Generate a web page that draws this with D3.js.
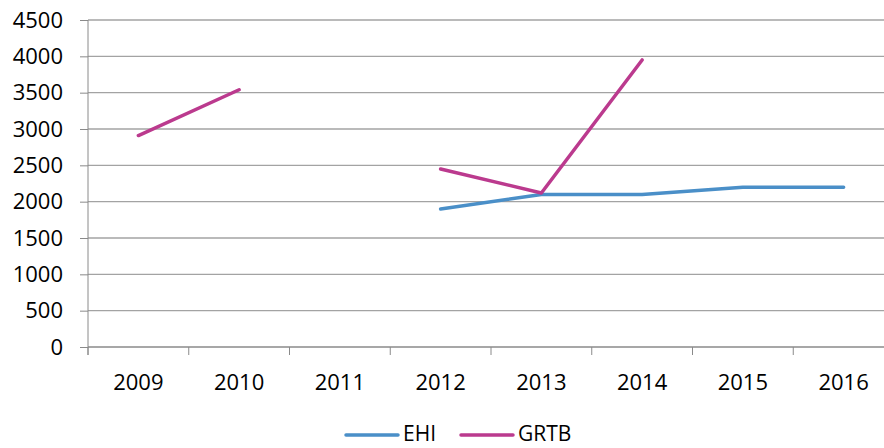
<!DOCTYPE html>
<html>
<head>
<meta charset="utf-8">
<script src="https://cdn.jsdelivr.net/npm/d3@7"></script>
<style>
  body { margin: 0; background: #fff; }
  svg { display: block; font-family: "Open Sans", sans-serif; }
</style>
</head>
<body>
<svg id="chart" width="884" height="448"></svg>
<script>
// values, null = no data that year
var years = ["2009", "2010", "2011", "2012", "2013", "2014", "2015", "2016"];
var ehi   = [null, null, null, 1900, 2100, 2100, 2200, 2200];
var grtb  = [2910, 3540, null, 2450, 2120, 3950, null, null];
var yTicks = [0, 500, 1000, 1500, 2000, 2500, 3000, 3500, 4000, 4500];
var seriesNames = ["EHI", "GRTB"];
var seriesColors = ["#4a8fc8", "#bb3a8e"];

var plotLeft = 88, plotTop = 20, plotBottom = 347,
	bandW = 100.75;

var svg = d3.select("#chart");

var x = d3.scaleBand()
	.domain(years)
	.range([plotLeft, plotLeft + bandW * years.length]);
var y = d3.scaleLinear()
	.domain([0, 4500])
	.range([plotBottom, plotTop]);

// horizontal gridlines
svg.append("g")
	.selectAll("line")
	.data(yTicks.slice(1))
	.join("line")
		.attr("x1", plotLeft)
		.attr("x2", x.range()[1])
		.attr("y1", d => y(d))
		.attr("y2", d => y(d))
		.attr("stroke", "#a3a3a3")
		.attr("stroke-width", 1.3);

// y axis
var yAxis = svg.append("g")
	.attr("transform", "translate(" + plotLeft + ",0)")
	.call(d3.axisLeft(y).tickValues(yTicks).tickFormat(d3.format("d"))
		.tickSize(8).tickPadding(17).tickSizeOuter(0));
yAxis.select(".domain").remove();
yAxis.append("line")
	.attr("x1", 0).attr("x2", 0)
	.attr("y1", plotTop).attr("y2", plotBottom + 8)
	.attr("stroke", "#8a8a8a");
yAxis.selectAll(".tick line").attr("stroke", "#8a8a8a");
yAxis.selectAll(".tick text")
	.attr("fill", "#000")
	.style("font-size", "22px")
	.style("font-family", "'Open Sans', sans-serif");

// x axis, ticks on band edges
var xg = svg.append("g");
xg.append("line")
	.attr("x1", plotLeft).attr("x2", x.range()[1])
	.attr("y1", plotBottom).attr("y2", plotBottom)
	.attr("stroke", "#8a8a8a").attr("stroke-width", 1.3);
xg.selectAll("line.tk")
	.data(years)
	.join("line")
		.attr("class", "tk")
		.attr("x1", d => x(d)).attr("x2", d => x(d))
		.attr("y1", plotBottom).attr("y2", plotBottom + 8)
		.attr("stroke", "#8a8a8a");
xg.selectAll("text")
	.data(years)
	.join("text")
		.attr("x", d => x(d) + x.bandwidth() / 2)
		.attr("y", 390)
		.attr("text-anchor", "middle")
		.style("font-size", "22px")
		.text(d => d);

// lines
var line = d3.line()
	.defined(d => d.v != null)
	.x(d => x(d.year) + x.bandwidth() / 2)
	.y(d => y(d.v));

[ehi, grtb].forEach(function(vals, i) {
	var pts = years.map((yr, j) => ({ year: yr, v: vals[j] }));
	svg.append("path")
		.datum(pts)
		.attr("fill", "none")
		.attr("stroke", seriesColors[i])
		.attr("stroke-width", 3.5)
		.attr("stroke-linejoin", "round")
		.attr("stroke-linecap", "round")
		.attr("d", line);
});

// legend
var legX = [346, 461];
var leg = svg.append("g");
seriesNames.forEach(function(name, i) {
	leg.append("line")
		.attr("x1", legX[i]).attr("x2", legX[i] + 52)
		.attr("y1", 435).attr("y2", 435)
		.attr("stroke", seriesColors[i])
		.attr("stroke-width", 3.5)
		.attr("stroke-linecap", "round");
	leg.append("text")
		.attr("x", legX[i] + 57)
		.attr("y", 441)
		.style("font-size", "21px")
		.text(name);
});
</script>
</body>
</html>
